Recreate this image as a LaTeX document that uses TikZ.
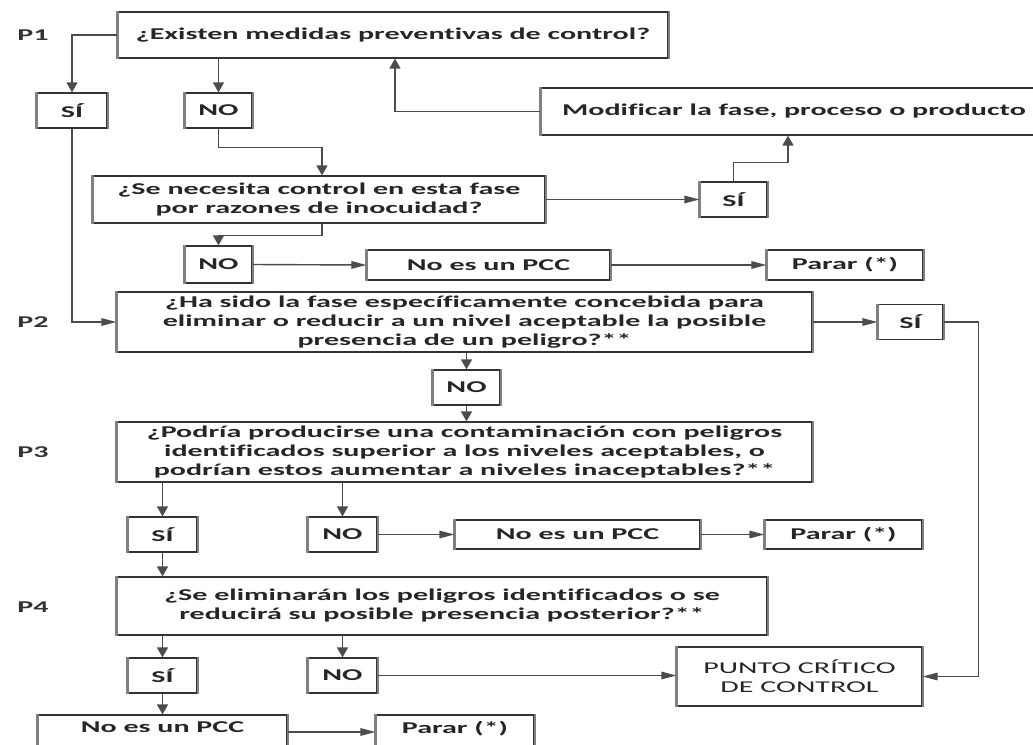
\documentclass[tikz,border=0pt]{standalone}
\usepackage{fontspec}
\setmainfont{Carlito}[FakeStretch=1.82, Ligatures={NoCommon}]
\usetikzlibrary{arrows.meta}
\begin{document}
\begin{tikzpicture}[x=1pt,y=-1pt,
  font=\fontsize{16.5}{19}\selectfont\bfseries,
  side/.style={draw=black!50, line width=2.2pt},
  box/.style={draw=black!80, line width=1.2pt, inner sep=0pt, align=center, text=black!85,
    append after command={
      (\tikzlastnode.north west) edge[side] (\tikzlastnode.south west)
      (\tikzlastnode.north east) edge[side] (\tikzlastnode.south east)}},
  tag/.style={inner sep=0pt, text=black!80},
  ln/.style={draw=black!70, line width=1.4pt},
  av/.style={ln, -{Triangle[length=10pt,width=11pt]}},
  ah/.style={ln, -{Triangle[length=15pt,width=7.5pt]}}]
\useasboundingbox (0,0) rectangle (1033,744);

% question boxes
\node[box, minimum width=550pt, minimum height=46pt] (Q1) at (393,35) {¿Existen medidas preventivas de control?};
\node[box, minimum width=452pt, minimum height=47pt] (Q2) at (319,199.5) {¿Se necesita control en esta fase\\por razones de inocuidad?};
\node[box, minimum width=695pt, minimum height=60pt] (P2Q) at (464.5,322) {¿Ha sido la fase específicamente concebida para\\eliminar o reducir a un nivel aceptable la posible\\presencia de un peligro?**};
\node[box, minimum width=695pt, minimum height=60pt] (P3Q) at (464.5,452) {¿Podría producirse una contaminación con peligros\\identificados superior a los niveles aceptables, o\\podrían estos aumentar a niveles inaceptables?**};
\node[box, minimum width=650pt, minimum height=58pt] (P4Q) at (442,606) {¿Se eliminarán los peligros identificados o se\\reducirá su posible presencia posterior?**};
\node[box, minimum width=498pt, minimum height=47pt] (MOD) at (790,111.5) {\hspace*{8pt}Modificar la fase, proceso o producto};

% answer boxes
\node[box, minimum width=70pt, minimum height=35pt] (SI1) at (72,110.5) {SÍ};
\node[box, minimum width=67pt, minimum height=35pt] (NO1) at (218.5,110.5) {NO};
\node[box, minimum width=67pt, minimum height=35pt] (SI2) at (733.5,199.5) {SÍ};
\node[box, minimum width=67pt, minimum height=37pt] (NO2) at (218.5,264.5) {NO};
\node[box, minimum width=65pt, minimum height=35pt] (SI3) at (910.5,322) {SÍ};
\node[box, minimum width=67pt, minimum height=35pt] (NO3) at (466.5,387.5) {NO};
\node[box, minimum width=69pt, minimum height=35pt] (SI4) at (162.5,534.5) {SÍ};
\node[box, minimum width=69pt, minimum height=35pt] (NO4) at (342.5,534.5) {NO};
\node[box, minimum width=69pt, minimum height=35pt] (SI5) at (162.5,675.5) {SÍ};
\node[box, minimum width=69pt, minimum height=35pt] (NO5) at (342.5,675.5) {NO};

% outcome boxes
\node[box, minimum width=243pt, minimum height=30pt] (PCC1) at (488.5,265) {No es un PCC};
\node[box, minimum width=156pt, minimum height=30pt] (PAR1) at (845,265) {Parar (*)};
\node[box, minimum width=245pt, minimum height=29pt] (PCC2) at (577.5,534.5) {No es un PCC};
\node[box, minimum width=157pt, minimum height=29pt] (PAR2) at (843.5,534.5) {Parar (*)};
\node[box, minimum width=245pt, minimum height=59pt, font=\fontsize{16.5}{19}\selectfont\mdseries] (CCP) at (799.5,676.5) {PUNTO CRÍTICO\\DE CONTROL};
\node[box, minimum width=249pt, minimum height=34pt, text depth=10pt] (PCC3) at (162.5,732) {No es un PCC};
\node[box, minimum width=158pt, minimum height=34pt, text depth=10pt] (PAR3) at (455,732) {Parar (*)};

% step labels
\node[tag] (L1) at (33,35) {P1};
\node[tag] (L2) at (33,322) {P2};
\node[tag] (L3) at (33,452) {P3};
\node[tag] (L4) at (33,607) {P4};

% connectors
\draw[av] (Q1.west) -| (SI1.north);
\draw[av] (NO1.north |- Q1.south) -- (NO1.north);
\draw[av] (NO1.south) -- ++(0,19) -| ([xshift=3pt]Q2.north);
\draw[ah] (Q2.east) -- (SI2.west);
\draw[av] (SI2.north) -- ++(0,-19) -| ([xshift=-2pt]MOD.south);
\draw[av] (MOD.west) -| ([xshift=2pt]Q1.south);
\draw[av] ([xshift=3pt]Q2.south) -- ++(0,12) -| (NO2.north);
\draw[ah] (NO2.east) -- (PCC1.west);
\draw[ah] (PCC1.east) -- (PAR1.west);
\draw[ah] (SI1.south) |- (P2Q.west);
\draw[ah] (P2Q.east) -- (SI3.west);
\draw[ah] (SI3.east) -- ++(35,0) |- (CCP.east);
\draw[av] (NO3.north |- P2Q.south) -- (NO3.north);
\draw[av] (NO3.south) -- (NO3.south |- P3Q.north);
\draw[av] (SI4.north |- P3Q.south) -- (SI4.north);
\draw[av] (NO4.north |- P3Q.south) -- (NO4.north);
\draw[ah] (NO4.east) -- (PCC2.west);
\draw[ah] (PCC2.east) -- (PAR2.west);
\draw[av] (SI4.south) -- (SI4.south |- P4Q.north);
\draw[av] (SI5.north |- P4Q.south) -- (SI5.north);
\draw[av] (NO5.north |- P4Q.south) -- (NO5.north);
\draw[ah] (NO5.east) -- (NO5.east -| CCP.west);
\draw[av] (SI5.south) -- (PCC3.north);
\draw[ah] (PCC3.east) -- (PAR3.west);
\end{tikzpicture}
\end{document}
